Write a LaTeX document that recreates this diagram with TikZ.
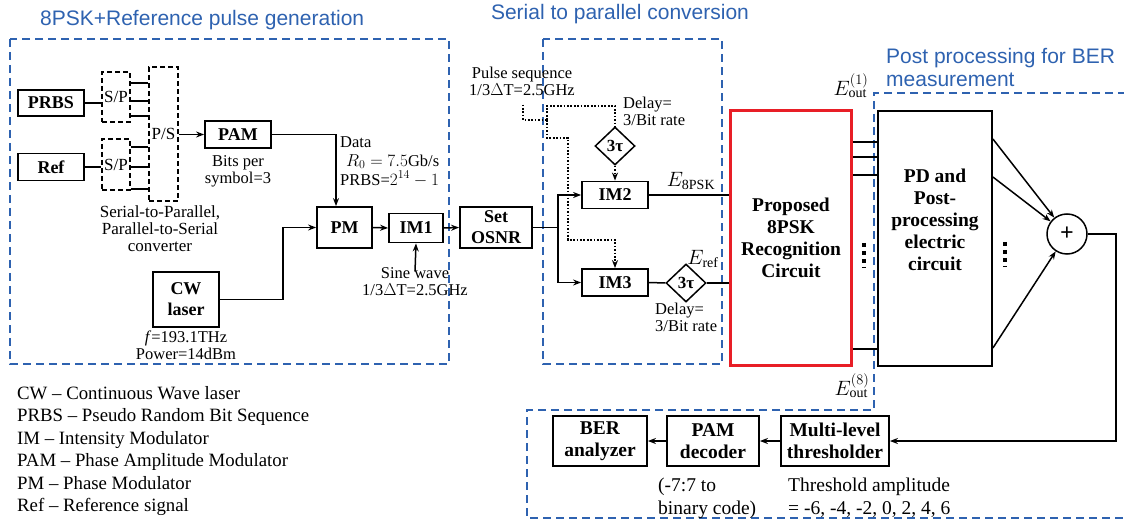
\documentclass[tikz,border=0pt]{standalone}
\usepackage{fontspec}
\setmainfont{Liberation Serif}
\newfontfamily\titlefont{Liberation Sans}
\usetikzlibrary{arrows.meta,shapes.geometric,calc}
\definecolor{gblue}{RGB}{46,98,176}
\definecolor{rred}{RGB}{232,30,38}
\tikzset{
 bx/.style={draw, line width=1.8, inner sep=0, align=center, font=\bfseries\fontsize{18}{21}\selectfont},
 bxl/.style={bx, font=\bfseries\fontsize{19.5}{22}\selectfont},
 dbx/.style={draw, dash pattern=on 5 off 3, line width=1.5, inner sep=0, font=\fontsize{17}{19}\selectfont},
 con/.style={line width=1.5},
 arr/.style={con, -{Stealth[length=8,width=6]}},
 pdot/.style={line width=1.7, dash pattern=on 1.7 off 1.7},
 pdotarr/.style={pdot, -{Stealth[length=8,width=6]}},
 grp/.style={draw=gblue, line width=2, dash pattern=on 8 off 5},
 lbl/.style={font=\fontsize{16.5}{17}\selectfont, align=center, inner sep=0},
 lblb/.style={font=\fontsize{19.5}{23}\selectfont, align=left, inner sep=0},
 ttl/.style={font=\titlefont\fontsize{21}{23}\selectfont, text=gblue, inner sep=0, align=left},
 mlbl/.style={font=\fontsize{20}{22}\selectfont, inner sep=0},
 dia/.style={diamond, draw, line width=1.5, inner sep=0, minimum width=40, minimum height=38, font=\bfseries\fontsize{17}{19}\selectfont},
}
\begin{document}
\begin{tikzpicture}[x=1pt,y=-1pt]
\useasboundingbox (0,0) rectangle (1124,521);
% group frames
\draw[grp] (10,39) rectangle (449,364);
\draw[grp] (543,39) rectangle (722,364);
\draw[grp] (1126,93) -- (874,93) -- (874,410) -- (527,410) -- (527,518) -- (1126,518);
\node[ttl, anchor=west] (t1) at (40,20) {8PSK+Reference pulse generation};
\node[ttl, anchor=center] (t2) at (620,14) {Serial to parallel conversion};
\node[ttl, anchor=west] (t3) at (886,67) {Post processing for BER\\measurement};
% left section
\node[bx, minimum width=66, minimum height=26] (prbs) at (51,103) {PRBS};
\node[bx, minimum width=66, minimum height=27] (ref) at (51,167) {Ref};
\node[dbx, minimum width=28, minimum height=50] (sp1) at (116,97) {S/P};
\node[dbx, minimum width=28, minimum height=51] (sp2) at (116,164.5) {S/P};
\node[dbx, minimum width=29, minimum height=134] (ps) at (163.5,134) {P/S};
\node[bx, minimum width=66, minimum height=27] (pam) at (238,134.5) {PAM};
\node[bx, minimum width=66, minimum height=55] (cw) at (186,299.5) {CW\\laser};
\node[bx, minimum width=55, minimum height=41] (pm) at (344.5,227.5) {PM};
\node[bx, minimum width=54, minimum height=29] (im1) at (416,228) {IM1};
\node[bx, minimum width=72, minimum height=41] (osnr) at (496,227.5) {Set\\OSNR};
\draw[con] (prbs.east) -- (prbs.east -| sp1.west);
\draw[con] (ref.east) -- (ref.east -| sp2.west);
\foreach \yy in {83,101,116} \draw[con] (sp1.east |- 0,\yy) -- (ps.west |- 0,\yy);
\foreach \yy in {147,167,189} \draw[con] (sp2.east |- 0,\yy) -- (ps.west |- 0,\yy);
\draw[arr] (ps.east |- pam.west) -- (pam.west);
\draw[arr] (pam.east) -| ([xshift=-8.5]pm.north);
\draw[arr] (cw.east) -- ++(63,0) |- (pm.west);
\draw[arr] (pm.east) -- (im1.west);
\draw[arr] (im1.east) -- (osnr.west);
\node[lbl] (bits) at (238,171) {Bits per\\symbol=3};
\node[lbl, font=\fontsize{17}{17}\selectfont] (spps) at (160,229) {Serial-to-Parallel,\\Parallel-to-Serial\\converter};
\node[lbl] (cwl) at (186,345) {\textit{f}=193.1THz\\Power=14dBm};
\node[lbl, align=left, anchor=north west, font=\fontsize{16.5}{19}\selectfont] (data) at (340,136) {Data\\\hspace{6pt}$R_0=7.5$Gb/s\\PRBS=$2^{14}-1$};
\node[lbl] (sine) at (415,282) {Sine wave\\1/3$\Delta$T=2.5GHz};
\draw[arr] ([yshift=-4]sine.north) -- (im1.south);
% serial to parallel
\node[lbl] (pulse) at (522,81) {Pulse sequence\\1/3$\Delta$T=2.5GHz};
\node[bx, minimum width=66, minimum height=27] (im2) at (615,195) {IM2};
\node[bx, minimum width=66, minimum height=27] (im3) at (615,282.5) {IM3};
\node[dia] (d1) at (615,146) {3τ};
\node[dia] (d2) at (686,283) {3τ};
\node[lbl, align=left, anchor=north west] (dl1) at (623,97) {Delay=\\3/Bit rate};
\node[lbl, align=left, anchor=north west] (dl2) at (655,303) {Delay=\\3/Bit rate};
\draw[con] (osnr.east) -- ++(25,0) coordinate (split);
\draw[arr] (split) |- (im2.west);
\draw[arr] (split) |- (im3.west);
\coordinate (pj) at (547,120);
\draw[pdot] ([xshift=1]pulse.south) ++(0,9) |- (pj);
\draw[pdot] (pj) -- (547,106) -| (d1.north);
\draw[pdotarr] (pj) -- (547,138) -- (568,138) -- (568,240) -| (im3.north);
\draw[pdotarr] (d1.south) -- (im2.north);
% recognition circuit
\node[draw=rred, line width=3, minimum width=121, minimum height=255, inner sep=0, align=center, font=\bfseries\fontsize{19.5}{22}\selectfont] (rec) at (791,238) {Proposed\\8PSK\\Recognition\\Circuit};
\draw[con] (im2.east) -- (im2.east -| rec.west);
\draw[con] (im3.east) -- (d2.west);
\draw[con] (d2.east) -- (d2.east -| rec.west);
\node[mlbl] (e8) at (691,181) {$E_{\mathrm{8PSK}}$};
\node[mlbl] (eref) at (703,259) {$E_{\mathrm{ref}}$};
% post processing
\node[bx, minimum width=114, minimum height=255] (pd) at (935,238.5) {};
\node[bxl, draw=none] (pdt) at (935,220) {PD and\\Post-\\processing\\electric\\circuit};
\foreach \yy in {142,157,175,349} \draw[con] (rec.east |- 0,\yy) -- (pd.west |- 0,\yy);
\node[mlbl] (eo1) at (851,86) {$E_{\mathrm{out}}^{(1)}$};
\node[mlbl] (eo8) at (852,386) {$E_{\mathrm{out}}^{(8)}$};
\draw[line width=3.5, dash pattern=on 4.5 off 3.5] (864,243) -- (864,268);
\draw[line width=3.5, dash pattern=on 4.5 off 3.5] (1005,242) -- (1005,267);
\node[draw, circle, line width=1.5, minimum size=40, inner sep=0, font=\bfseries\fontsize{24}{24}\selectfont] (sum) at (1067,234) {+};
\draw[arr] (pd.east |- 0,139) -- (sum);
\draw[arr] (pd.east |- 0,177) -- (sum);
\draw[arr] (pd.east |- 0,348) -- (sum);
\node[bxl, minimum width=94, minimum height=50] (ber) at (600,441) {BER\\analyzer};
\node[bxl, minimum width=92, minimum height=50] (pamd) at (713,441) {PAM\\decoder};
\node[bxl, minimum width=108, minimum height=50] (thr) at (835,441) {Multi-level\\thresholder};
\draw[arr] (sum.east) -- ++(28,0) |- (thr.east);
\draw[arr] (thr.west) -- (pamd.east);
\draw[arr] (pamd.west) -- (ber.east);
\node[lblb, anchor=north west] (cod) at (658,478) {(-7:7 to\\binary code)};
\node[lblb, anchor=north west] (thl) at (788,478) {Threshold amplitude\\= -6, -4, -2, 0, 2, 4, 6};
% legend
\node[inner sep=0, anchor=north west, align=left, font=\fontsize{18.8}{22.5}\selectfont] (leg) at (17,386) {CW – Continuous Wave laser\\PRBS – Pseudo Random Bit Sequence\\IM – Intensity Modulator\\PAM – Phase Amplitude Modulator\\PM – Phase Modulator\\Ref – Reference signal};
\end{tikzpicture}
\end{document}
